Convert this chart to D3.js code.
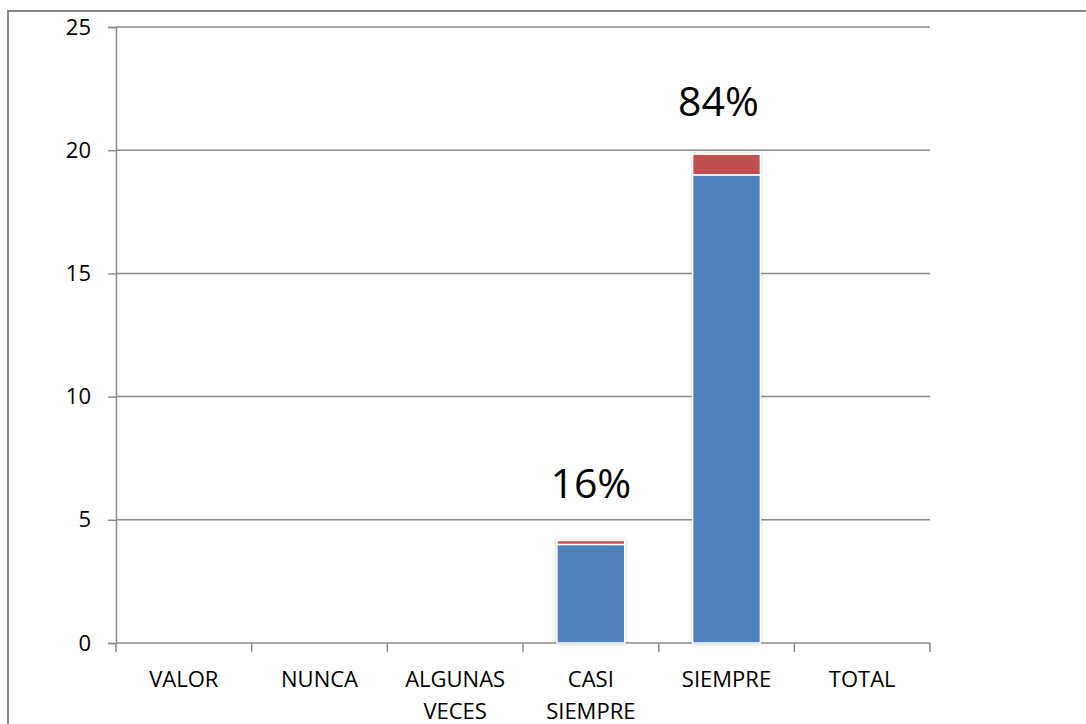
<!DOCTYPE html>
<html>
<head>
<meta charset="utf-8">
<script src="https://cdn.jsdelivr.net/npm/d3@7"></script>
<style>
  html, body { margin: 0; padding: 0; background: #fff; }
  svg { display: block; }
  text { font-family: "Open Sans", "Liberation Sans", sans-serif; fill: #000; }
</style>
</head>
<body>
<svg id="chart" width="1086" height="724"></svg>
<script>
// ---- data ----
const categories = ["VALOR", "NUNCA", "ALGUNAS VECES", "CASI SIEMPRE", "SIEMPRE", "TOTAL"];
const countValues = [0, 0, 0, 4, 19, 0];          // blue series
const shareValues = [0, 0, 0, 0.16, 0.84, 0];     // red series (fraction)
const pctLabels   = ["", "", "", "16%", "84%", ""];
const yTicks = [0, 5, 10, 15, 20, 25];

// ---- layout ----
const svg = d3.select("#chart");
const plot = { left: 116, right: 930, top: 27, bottom: 643 };

const x = d3.scaleBand().domain(categories).range([plot.left, plot.right]).padding(0);
const y = d3.scaleLinear().domain([0, 25]).range([plot.bottom, plot.top]);

const defs = svg.append("defs");
const f = defs.append("filter").attr("id", "shadow").attr("x", "-20%").attr("y", "-20%").attr("width", "140%").attr("height", "140%");
f.append("feDropShadow").attr("dx", 0).attr("dy", 0).attr("stdDeviation", 1.6)
  .attr("flood-color", "#000").attr("flood-opacity", 0.25);

// outer border
svg.append("rect").attr("x", 8).attr("y", 11).attr("width", 1100).attr("height", 740)
  .attr("fill", "#fff").attr("stroke", "#888").attr("stroke-width", 2);

const gridColor = "#8a8a8a";

// gridlines + y ticks
const yAxis = d3.axisLeft(y).tickValues(yTicks).tickSize(8).tickPadding(17).tickFormat(d3.format("d"));
const gy = svg.append("g").attr("transform", `translate(${plot.left},0)`).call(yAxis);
gy.select(".domain").attr("stroke", gridColor).attr("stroke-width", 1.5);
gy.selectAll(".tick line").attr("stroke", gridColor).attr("stroke-width", 1.5);
gy.selectAll(".tick text").style("font-size", "22px").attr("fill", "#000");
svg.append("g").selectAll("line").data(yTicks).join("line")
  .attr("x1", plot.left).attr("x2", plot.right)
  .attr("y1", d => y(d)).attr("y2", d => y(d))
  .attr("stroke", gridColor).attr("stroke-width", 1.5);

// x axis ticks at band boundaries
const boundaries = categories.map(c => x(c)).concat([plot.right]);
svg.append("g").selectAll("line").data(boundaries).join("line")
  .attr("x1", d => d).attr("x2", d => d)
  .attr("y1", plot.bottom).attr("y2", plot.bottom + 9)
  .attr("stroke", gridColor).attr("stroke-width", 1.5);

// x labels (wrapped at spaces)
const xl = svg.append("g").selectAll("text").data(categories).join("text")
  .attr("x", d => x(d) + x.bandwidth() / 2)
  .attr("y", 687)
  .attr("text-anchor", "middle")
  .style("font-size", "22px");
xl.each(function(d) {
  const t = d3.select(this);
  d.split(" ").forEach((w, i) => {
    t.append("tspan").attr("x", x(d) + x.bandwidth() / 2).attr("dy", i === 0 ? 0 : 31.5).text(w);
  });
});

// stacked bars
const barW = x.bandwidth() * 0.5;
const barX = c => x(c) + (x.bandwidth() - barW) / 2;
const rows = categories.map((c, i) => ({ c, a: countValues[i], b: shareValues[i], label: pctLabels[i] }));
const bars = svg.append("g").attr("filter", "url(#shadow)");
bars.selectAll("rect.blue").data(rows.filter(r => r.a > 0)).join("rect")
  .attr("class", "blue")
  .attr("x", d => barX(d.c)).attr("width", barW)
  .attr("y", d => y(d.a)).attr("height", d => y(0) - y(d.a))
  .attr("fill", "#4F81BD").attr("stroke", "#fff").attr("stroke-width", 1.5);
bars.selectAll("rect.red").data(rows.filter(r => r.b > 0)).join("rect")
  .attr("class", "red")
  .attr("x", d => barX(d.c)).attr("width", barW)
  .attr("y", d => y(d.a + d.b)).attr("height", d => y(d.a) - y(d.a + d.b))
  .attr("fill", "#C0504D").attr("stroke", "#fff").attr("stroke-width", 1.5);

// percentage labels
svg.append("g").selectAll("text").data(rows.filter(r => r.label)).join("text")
  .attr("x", d => x(d.c) + x.bandwidth() / 2 + (d.a > 10 ? -8 : 0))
  .attr("y", d => y(d.a + d.b) - (d.a > 10 ? 38 : 42))
  .attr("text-anchor", "middle")
  .style("font-size", "41px")
  .text(d => d.label);
</script>
</body>
</html>
